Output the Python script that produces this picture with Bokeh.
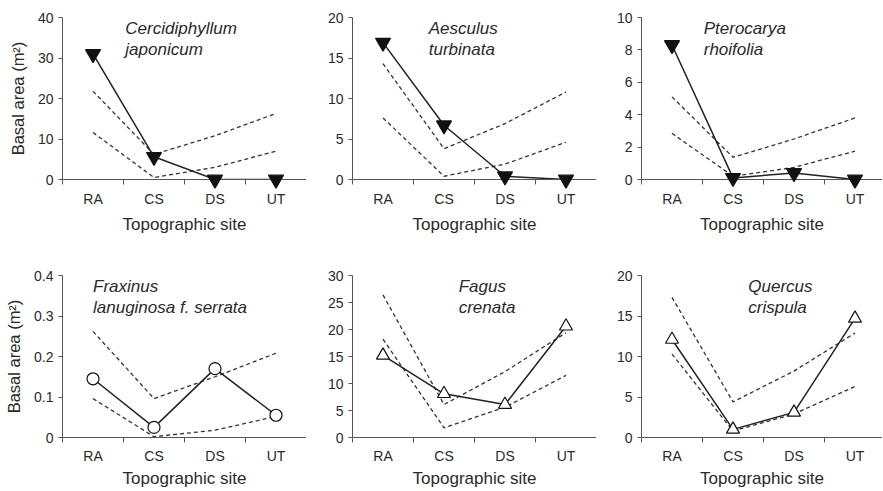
from bokeh.plotting import figure
from bokeh.models import Range1d, FixedTicker, ColumnDataSource
from bokeh.layouts import column, row
from bokeh.embed import file_html
from bokeh.resources import INLINE
from bokeh.core.properties import value

# ---------------- data ----------------
sites = ["RA", "CS", "DS", "UT"]

species = [
    "Cercidiphyllum\njaponicum",
    "Aesculus\nturbinata",
    "Pterocarya\nrhoifolia",
    "Fraxinus\nlanuginosa f. serrata",
    "Fagus\ncrenata",
    "Quercus\ncrispula",
]

observed_cercidiphyllum = [31.0, 5.6, 0.0, 0.0]
upper_cercidiphyllum = [21.8, 6.2, 10.8, 16.3]
lower_cercidiphyllum = [11.6, 0.5, 3.0, 7.0]

observed_aesculus = [16.9, 6.7, 0.4, 0.0]
upper_aesculus = [14.3, 3.8, 6.9, 10.8]
lower_aesculus = [7.6, 0.4, 1.9, 4.6]

observed_pterocarya = [8.3, 0.1, 0.4, 0.0]
upper_pterocarya = [5.1, 1.37, 2.5, 3.8]
lower_pterocarya = [2.85, 0.2, 0.75, 1.75]

observed_fraxinus = [0.145, 0.025, 0.170, 0.055]
upper_fraxinus = [0.262, 0.096, 0.150, 0.208]
lower_fraxinus = [0.096, 0.002, 0.018, 0.052]

observed_fagus = [15.2, 8.1, 6.1, 20.6]
upper_fagus = [26.4, 6.1, 12.2, 19.4]
lower_fagus = [18.2, 1.8, 5.6, 11.5]

observed_quercus = [12.1, 1.0, 3.1, 14.7]
upper_quercus = [17.3, 4.4, 8.2, 12.9]
lower_quercus = [10.3, 0.8, 2.9, 6.3]

observed = [observed_cercidiphyllum, observed_aesculus, observed_pterocarya,
            observed_fraxinus, observed_fagus, observed_quercus]
upper = [upper_cercidiphyllum, upper_aesculus, upper_pterocarya,
         upper_fraxinus, upper_fagus, upper_quercus]
lower = [lower_cercidiphyllum, lower_aesculus, lower_pterocarya,
         lower_fraxinus, lower_fagus, lower_quercus]

y_ticks = [
    [0, 10, 20, 30, 40],
    [0, 5, 10, 15, 20],
    [0, 2, 4, 6, 8, 10],
    [0, 0.1, 0.2, 0.3, 0.4],
    [0, 5, 10, 15, 20, 25, 30],
    [0, 5, 10, 15, 20],
]
y_tick_labels = [
    ["0", "10", "20", "30", "40"],
    ["0", "5", "10", "15", "20"],
    ["0", "2", "4", "6", "8", "10"],
    ["0", "0.1", "0.2", "0.3", "0.4"],
    ["0", "5", "10", "15", "20", "25", "30"],
    ["0", "5", "10", "15", "20"],
]

x_title = "Topographic site"
y_title = "Basal area (m\u00b2)"

# ---------------- styling / layout ----------------
markers = ["inverted_triangle"] * 3 + ["circle", "triangle", "triangle"]
marker_fill = ["#111111"] * 3 + ["white"] * 3
marker_size = [15, 15, 15, 12, 13, 13]
label_x = [1.03, 1.25, 1.02, 0.5, 1.74, 1.75]

FONT = "Liberation Sans"
TEXT = "#2a2a2a"
AXIS = "#555555"

centers = [i + 0.5 for i in range(len(sites))]
bounds = [float(i) for i in range(len(sites) + 1)]

col_frame = [244, 244, 241]
col_left = [62, 46, 45]
col_xend = [4.0, 4.0, 241 / 61]
row_frame = [162, 162]
row_top = [17, 36]
row_bottom = [60, 50]
x_label_standoff = [6, 5]
x_title_standoff = [5, 2]


def make_panel(k):
    r, c = divmod(k, 3)
    p = figure(frame_width=col_frame[c], frame_height=row_frame[r],
               x_range=Range1d(0, col_xend[c]),
               y_range=Range1d(0, y_ticks[k][-1]),
               output_backend="svg", toolbar_location=None,
               min_border_left=col_left[c], min_border_right=0,
               min_border_top=row_top[r], min_border_bottom=row_bottom[r],
               background_fill_color="white", border_fill_color="white")
    p.outline_line_color = None
    p.grid.visible = False

    # x axis
    xa = p.xaxis[0]
    xa.ticker = FixedTicker(ticks=centers, minor_ticks=bounds)
    xa.major_label_overrides = {cx: s for cx, s in zip(centers, sites)}
    xa.major_tick_line_color = None
    xa.major_tick_out = 0
    xa.major_tick_in = 0
    xa.minor_tick_out = 5
    xa.minor_tick_in = 0
    xa.minor_tick_line_color = AXIS
    xa.axis_line_color = AXIS
    xa.major_label_standoff = x_label_standoff[r]
    xa.major_label_text_font = FONT
    xa.major_label_text_font_size = "14px"
    xa.major_label_text_color = TEXT
    xa.axis_label = x_title
    xa.axis_label_text_font = FONT
    xa.axis_label_text_font_size = "17px"
    xa.axis_label_text_font_style = "normal"
    xa.axis_label_text_color = TEXT
    xa.axis_label_standoff = x_title_standoff[r]

    # y axis
    ya = p.yaxis[0]
    ya.ticker = FixedTicker(ticks=y_ticks[k])
    ya.major_label_overrides = {t: s for t, s in zip(y_ticks[k], y_tick_labels[k])}
    ya.major_tick_out = 4
    ya.major_tick_in = 0
    ya.minor_tick_line_color = None
    ya.major_tick_line_color = AXIS
    ya.axis_line_color = AXIS
    ya.major_label_standoff = 5
    ya.major_label_text_font = FONT
    ya.major_label_text_font_size = "14px"
    ya.major_label_text_color = TEXT
    if c == 0:
        ya.axis_label = y_title
        ya.axis_label_text_font = FONT
        ya.axis_label_text_font_size = "16.5px"
        ya.axis_label_text_font_style = "normal"
        ya.axis_label_text_color = TEXT
        ya.axis_label_standoff = 8

    src = ColumnDataSource(dict(x=centers, obs=observed[k], up=upper[k], lo=lower[k]))
    p.line("x", "up", source=src, line_color="#333333", line_width=1.3, line_dash="4 3")
    p.line("x", "lo", source=src, line_color="#333333", line_width=1.3, line_dash="4 3")
    p.line("x", "obs", source=src, line_color="#222222", line_width=1.5)
    p.scatter("x", "obs", source=src, marker=markers[k], size=marker_size[k],
              fill_color=marker_fill[k], line_color="#111111", line_width=1.2,
              level="overlay")

    tsrc = ColumnDataSource(dict(x=[label_x[k]], y=[y_ticks[k][-1]], t=[species[k]]))
    p.text("x", "y", text="t", source=tsrc, text_font=value(FONT),
           text_font_style="italic", text_font_size="17px", text_color=TEXT,
           text_baseline="top", text_align="left", text_line_height=1.12,
           y_offset=1)
    return p


panels = [make_panel(k) for k in range(6)]
layout = column(row(*panels[:3]), row(*panels[3:]))

open("out.html", "w").write(file_html(layout, INLINE))
